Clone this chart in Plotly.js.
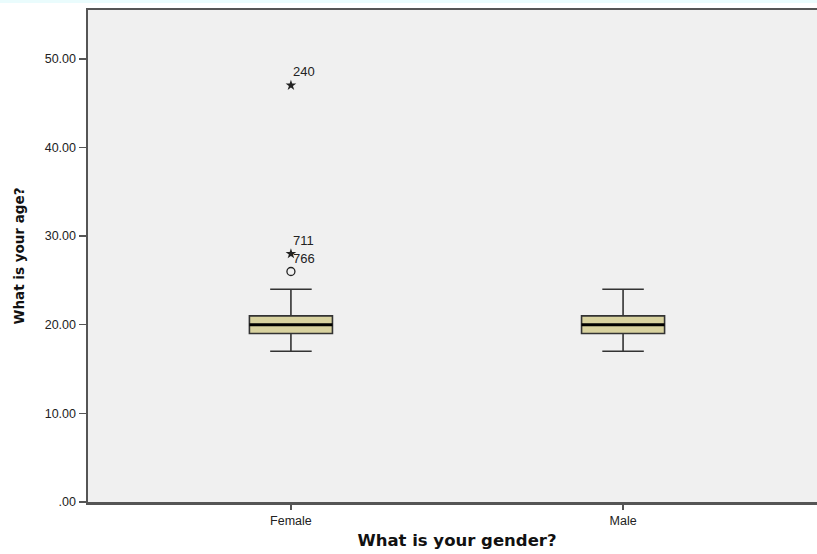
<!DOCTYPE html>
<html>
<head>
<meta charset="utf-8">
<script src="https://cdn.plot.ly/plotly-3.0.1.min.js"></script>
<style>
  html, body { margin: 0; padding: 0; overflow: hidden; background: #ffffff; }
  #strip { position: absolute; left: 0; top: 0; width: 817px; height: 3px; background: #eafcfd; z-index: 5; }
  #chart { width: 840px; height: 554px; }
</style>
</head>
<body>
<div id="strip"></div>
<div id="chart"></div>
<script>
// Age by gender: five-number summaries per group
const genders = ['Female', 'Male'];
const q1 = [19, 19];
const median = [20, 20];
const q3 = [21, 21];
const lowerWhisker = [17, 17];
const upperWhisker = [24, 24];

// Outlying cases (Female group): extreme values drawn as stars, mild as circles
const extremeCases = ['240', '711'];
const extremeAges = [47, 28];
const mildCases = ['766'];
const mildAges = [26];

// Y axis ticks
const yTickVals = [0, 10, 20, 30, 40, 50];
const yTickText = ['.00', '10.00', '20.00', '30.00', '40.00', '50.00'];

const xPos = genders.map((g, i) => i);
const boxWidth = 0.25;
const halfW = boxWidth / 2;
const labelFont = { family: 'Liberation Sans, Arial, sans-serif', size: 13, color: '#222222' };

const traces = [];

traces.push({
  type: 'box',
  x: xPos,
  q1: q1,
  median: median,
  q3: q3,
  lowerfence: lowerWhisker,
  upperfence: upperWhisker,
  width: boxWidth,
  whiskerwidth: 0.5,
  fillcolor: '#d8d29f',
  line: { color: '#333333', width: 1.6 },
  boxpoints: false,
  hoverinfo: 'skip',
  showlegend: false
});

// Heavier median bars across each box
genders.forEach((g, i) => {
  traces.push({
    type: 'scatter',
    mode: 'lines',
    x: [xPos[i] - halfW, xPos[i] + halfW],
    y: [median[i], median[i]],
    line: { color: '#000000', width: 3 },
    hoverinfo: 'skip',
    showlegend: false
  });
});

traces.push({
  type: 'scatter',
  mode: 'markers',
  x: extremeAges.map(() => xPos[0]),
  y: extremeAges,
  marker: { symbol: 'star', size: 8, color: '#222222' },
  cliponaxis: false,
  showlegend: false
});

traces.push({
  type: 'scatter',
  mode: 'markers',
  x: mildAges.map(() => xPos[0]),
  y: mildAges,
  marker: { symbol: 'circle-open', size: 8, color: '#222222', line: { width: 1.3 } },
  cliponaxis: false,
  showlegend: false
});

// Case-number labels placed above and to the right of each outlier
const caseLabels = extremeCases.map((c, i) => ({ text: c, y: extremeAges[i] }))
  .concat(mildCases.map((c, i) => ({ text: c, y: mildAges[i] })))
  .map(d => ({
    x: xPos[0], y: d.y, xref: 'x', yref: 'y',
    text: d.text, showarrow: false,
    xanchor: 'left', yanchor: 'bottom',
    xshift: 0, yshift: 4,
    font: labelFont
  }));

const layout = {
  width: 840,
  height: 554,
  margin: { l: 88, r: 14, t: 10, b: 52 },
  paper_bgcolor: '#ffffff',
  plot_bgcolor: '#f0f0f0',
  font: { family: 'Liberation Sans, Arial, sans-serif', color: '#222222' },
  annotations: caseLabels,
  xaxis: {
    range: [-0.611, 1.611],
    tickvals: xPos,
    ticktext: genders,
    ticks: 'outside',
    ticklen: 5,
    tickwidth: 1.5,
    tickcolor: '#555555',
    tickfont: { size: 12.5, color: '#222222' },
    showgrid: false,
    zeroline: false,
    showline: true,
    linecolor: '#555555',
    linewidth: 2.5,
    mirror: true,
    title: { text: '<b>What is your gender?</b>', font: { family: 'DejaVu Sans, sans-serif', size: 16.5, color: '#111111' }, standoff: 8 }
  },
  yaxis: {
    range: [0, 55.5],
    tickvals: yTickVals,
    ticktext: yTickText,
    ticks: 'outside',
    ticklen: 7,
    tickwidth: 1.5,
    tickcolor: '#555555',
    tickfont: { size: 12.5, color: '#222222' },
    showgrid: false,
    zeroline: false,
    showline: true,
    linecolor: '#555555',
    linewidth: 2.5,
    mirror: true,
    title: { text: '<b>What is your age?</b>', font: { family: 'DejaVu Sans, sans-serif', size: 13.5, color: '#111111' }, standoff: 17 }
  }
};

Plotly.newPlot('chart', traces, layout, { displayModeBar: false, staticPlot: true });
</script>
</body>
</html>
